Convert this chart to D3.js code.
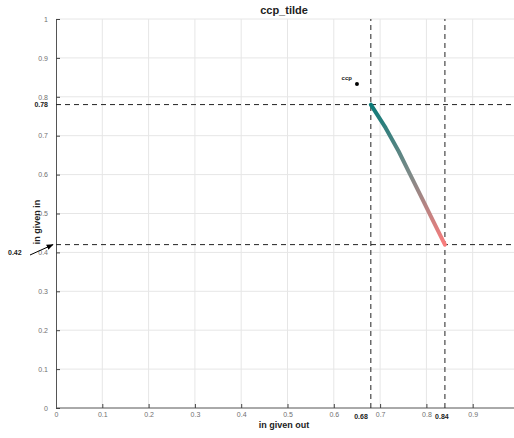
<!DOCTYPE html>
<html>
<head>
<meta charset="utf-8">
<script src="https://cdn.jsdelivr.net/npm/d3@7"></script>
<style>
  body { margin: 0; background: #fff; }
  svg { font-family: "Liberation Sans", Arial, sans-serif; }
</style>
</head>
<body>
<script>
'use strict';

// tick values for both axes
const xTicks = [0, 0.1, 0.2, 0.3, 0.4, 0.5, 0.6, 0.7, 0.8, 0.9];
const yTicks = [0, 0.1, 0.2, 0.3, 0.4, 0.5, 0.6, 0.7, 0.8, 0.9, 1];

// ccp_tilde curve (in given out, in given in)
const curveX = [0.68, 0.712, 0.74, 0.765, 0.79, 0.815, 0.84];
const curveY = [0.78, 0.72, 0.66, 0.60, 0.54, 0.48, 0.42];

// the ccp point
const ccpX = [0.65];
const ccpY = [0.833];

// dashed reference lines
const vLines = [0.68, 0.84];
const hLines = [0.78, 0.42];

(function () {
  const W = 514, H = 438;
  const svg = d3.select('body').append('svg')
    .attr('width', W).attr('height', H);

  const x = d3.scaleLinear().domain([0, 1]).range([56, 519]);
  const y = d3.scaleLinear().domain([0, 1]).range([408, 19]);

  // grid
  svg.append('g').selectAll('line').data(xTicks.filter(d => d > 0)).enter()
    .append('line')
    .attr('x1', d => x(d)).attr('x2', d => x(d))
    .attr('y1', y(0)).attr('y2', y(1))
    .attr('stroke', '#e6e6e6').attr('stroke-width', 1);
  svg.append('g').selectAll('line').data(yTicks.filter(d => d > 0)).enter()
    .append('line')
    .attr('x1', x(0)).attr('x2', W)
    .attr('y1', d => y(d)).attr('y2', d => y(d))
    .attr('stroke', '#e6e6e6').attr('stroke-width', 1);

  // axes (matlab style, ticks inward)
  let xAxis = d3.axisBottom(x).tickValues(xTicks).tickSizeInner(-4).tickSizeOuter(0)
    .tickPadding(4).tickFormat(d3.format('~g'));
  let gx = svg.append('g').attr('transform', `translate(0,${y(0)})`).call(xAxis);
  gx.select('.domain').attr('d', `M${x(0)},0H${W}`);

  let yAxis = d3.axisLeft(y).tickValues(yTicks).tickSizeInner(-4).tickSizeOuter(0)
    .tickPadding(8).tickFormat(d3.format('~g'));
  let gy = svg.append('g').attr('transform', `translate(${x(0)},0)`).call(yAxis);

  [gx, gy].forEach(g => {
    g.select('.domain').attr('stroke', '#555');
    g.selectAll('.tick line').attr('stroke', '#444');
    g.selectAll('.tick text').attr('fill', '#707070').style('font-size', '7px');
  });

  // dashed lines
  svg.append('g').selectAll('line').data(vLines).enter().append('line')
    .attr('x1', d => x(d)).attr('x2', d => x(d))
    .attr('y1', y(0)).attr('y2', y(1))
    .attr('stroke', '#222').attr('stroke-width', 1).attr('stroke-dasharray', '5,4');
  svg.append('g').selectAll('line').data(hLines).enter().append('line')
    .attr('x1', x(0)).attr('x2', W)
    .attr('y1', d => y(d)).attr('y2', d => y(d))
    .attr('stroke', '#222').attr('stroke-width', 1).attr('stroke-dasharray', '5,4');

  // gradient for the curve
  const pts = curveX.map((d, i) => [d, curveY[i]]);
  const grad = svg.append('defs').append('linearGradient')
    .attr('id', 'cgrad').attr('gradientUnits', 'userSpaceOnUse')
    .attr('x1', x(pts[0][0])).attr('y1', y(pts[0][1]))
    .attr('x2', x(pts[pts.length - 1][0])).attr('y2', y(pts[pts.length - 1][1]));
  grad.append('stop').attr('offset', '0%').attr('stop-color', '#0b7a78');
  grad.append('stop').attr('offset', '50%').attr('stop-color', '#7c8a88');
  grad.append('stop').attr('offset', '100%').attr('stop-color', '#fa7c7c');

  const line = d3.line().x(d => x(d[0])).y(d => y(d[1]));
  svg.append('path').datum(pts)
    .attr('d', line)
    .attr('fill', 'none')
    .attr('stroke', 'url(#cgrad)')
    .attr('stroke-width', 4)
    .attr('stroke-linejoin', 'round')
    .attr('stroke-linecap', 'round');

  // ccp point
  svg.append('circle').attr('cx', x(ccpX[0])).attr('cy', y(ccpY[0])).attr('r', 2)
    .attr('fill', '#000');
  svg.append('text').attr('x', x(ccpX[0]) - 5).attr('y', y(ccpY[0]) - 4)
    .attr('text-anchor', 'end').style('font-size', '6px').style('font-weight', 'bold')
    .attr('fill', '#222').text('ccp');

  // value labels for dashed lines
  svg.append('g').selectAll('text').data(vLines).enter().append('text')
    .attr('x', d => x(d) - 3).attr('y', y(0) + 11)
    .attr('text-anchor', (d, i) => i === 0 ? 'end' : 'middle')
    .style('font-size', '7px').style('font-weight', 'bold')
    .attr('fill', '#222').text(d => d3.format('.2f')(d));
  svg.append('text').attr('x', 48).attr('y', y(0.78) + 2.5)
    .attr('text-anchor', 'end').style('font-size', '7px').style('font-weight', 'bold')
    .attr('fill', '#222').text('0.78');

  // 0.42 with arrow
  svg.append('defs').append('marker').attr('id', 'ah')
    .attr('viewBox', '0 0 10 10').attr('refX', 9).attr('refY', 5)
    .attr('markerWidth', 7).attr('markerHeight', 7).attr('orient', 'auto')
    .append('path').attr('d', 'M0,1L10,5L0,9Z').attr('fill', '#000');
  svg.append('line').attr('x1', 30).attr('y1', 255).attr('x2', 53).attr('y2', y(0.42))
    .attr('stroke', '#000').attr('stroke-width', 1).attr('marker-end', 'url(#ah)');
  svg.append('text').attr('x', 8).attr('y', 255)
    .style('font-size', '7px').style('font-weight', 'bold')
    .attr('fill', '#222').text('0.42');

  // title and axis labels
  svg.append('text').attr('x', 284).attr('y', 14).attr('text-anchor', 'middle')
    .style('font-size', '11px').style('font-weight', 'bold').attr('fill', '#222')
    .text('ccp_tilde');
  svg.append('text').attr('x', 284).attr('y', 428).attr('text-anchor', 'middle')
    .style('font-size', '9px').style('font-weight', 'bold').attr('fill', '#222')
    .text('in given out');
  svg.append('text').attr('transform', `translate(40,222)rotate(-90)`)
    .attr('text-anchor', 'middle')
    .style('font-size', '9px').style('font-weight', 'bold').attr('fill', '#222')
    .text('in given in');
})();
</script>
</body>
</html>
